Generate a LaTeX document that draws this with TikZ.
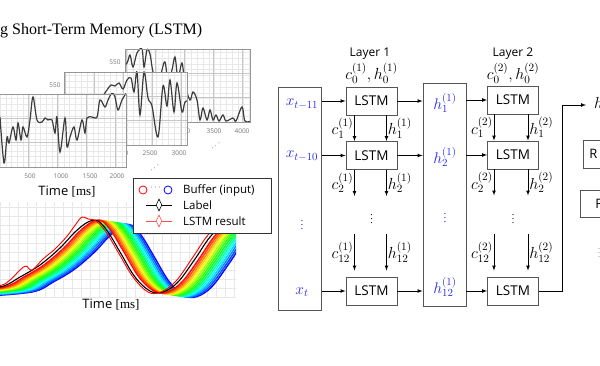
\RequirePackage{fix-cm}
\documentclass[tikz,border=0pt]{standalone}
\usepackage{fontspec}
\setmainfont{Liberation Serif}
\setsansfont{Open Sans}
\usetikzlibrary{shapes,arrows,positioning,calc}
\definecolor{frame}{RGB}{85, 85, 85}
\definecolor{inblue}{RGB}{40, 40, 235}
\definecolor{plotgray}{RGB}{150, 150, 150}
\definecolor{curvegray}{RGB}{60, 60, 60}
\definecolor{lstmred}{RGB}{255, 80, 80}
\tikzstyle{lstm} = [draw=frame, line width=0.9pt, minimum width=51pt, minimum height=28pt, inner sep=0pt, font=\sffamily\fontsize{13.5}{13.5}\selectfont]
\tikzstyle{column} = [draw=frame, line width=0.9pt, minimum width=43pt, inner sep=0pt]
\tikzstyle{sidebox} = [draw=frame, line width=0.9pt, inner sep=0pt, font=\sffamily\fontsize{13}{13}\selectfont]
\tikzstyle{lbl} = [inner sep=1pt, font=\fontsize{16}{16}\selectfont]
\tikzstyle{inlbl} = [inner sep=1pt, text=inblue, font=\fontsize{15.5}{15.5}\selectfont]
\tikzstyle{tick} = [inner sep=0pt, text=black!55, font=\sffamily\fontsize{6.5}{6.5}\selectfont]
\tikzstyle{textonly} = [inner sep=0pt, font=\sffamily\fontsize{12}{12}\selectfont]
\tikzstyle{gridminor} = [draw=black!9, line width=0.3pt]
\tikzstyle{gridmajor} = [draw=black!22, line width=0.4pt]
\tikzstyle{wave} = [draw=curvegray, line width=1.2pt, smooth, tension=0.55]
\tikzstyle{tedge} = [draw, line width=0.7pt, >=latex, ->]
\newcommand{\plotwin}[4]{%
  \fill[white] (#1,#2) rectangle (#3,#4);
  \draw[gridminor, step=5.8pt] (#1,#2) grid (#3,#4);
  \foreach \gx in {0,...,4} \draw[gridmajor] ({#1+1+29*\gx},#2) -- ({#1+1+29*\gx},#4);
  \foreach \gy in {1,2} \draw[gridmajor] (#1,{#2+24*\gy}) -- (#3,{#2+24*\gy});
}
\newcommand{\labelwave}{plot[smooth, tension=0.6] coordinates {(-40,291) (0,287) (20,277) (40,265) (60,248) (75,232) (88,222) (98,221) (108,232) (120,252) (135,277) (150,291) (163,292) (178,282) (195,259) (210,237) (225,223) (245,214)}}
\begin{document}
\begin{tikzpicture}[x=1pt, y=-1pt]
\useasboundingbox (0,0) rectangle (600,366);

% title
\node[anchor=base west, inner sep=0pt, font=\rmfamily\fontsize{16}{16}\selectfont] (title) at (0,35) {g Short-Term Memory (LSTM)};

% stacked signal windows ==================

% window 3
\node[tick] (t550c) at (115,62) {550};
\node[tick] (t3000c) at (183,131) {3000};
\node[tick] (t3500c) at (214,131) {3500};
\node[tick] (t4000c) at (242,131) {4000};
\begin{scope}
\clip (125,49) rectangle (250,122);
\plotwin{125}{49}{250}{122}
\draw[wave] plot coordinates {(120,70) (127,63) (130,55) (133,67) (137,53) (142,49) (144,67) (147,50) (150,54) (153,72) (158,88) (162,70) (165,62) (168,80) (172,70) (175,57) (178,78) (182,63) (185,85) (190,100) (193,92) (197,100) (200,120) (203,108) (207,120) (210,110) (213,120) (216,115) (219,121) (223,115) (226,121) (233,118) (236,121) (242,107) (245,121) (252,121)};
\end{scope}
\draw[plotgray, line width=0.9pt] (125,49) rectangle (250,122);
\node[rotate=35, font=\fontsize{7}{7}\selectfont] (dots3) at (216,146) {$\cdots$};

% window 2
\node[tick] (t550b) at (55,85) {550};
\node[tick] (t2000b) at (121,153) {2000};
\node[tick] (t2500b) at (150,153) {2500};
\node[tick] (t3000b) at (179,153) {3000};
\begin{scope}
\clip (64,72) rectangle (187,145);
\plotwin{64}{72}{187}{145}
\draw[wave] plot coordinates {(95,110) (103,96) (107,90) (111,85) (115,86) (119,83) (123,89) (127,80) (131,78) (134,92) (137,72) (140,115) (144,72) (148,98) (152,106) (158,137) (163,86) (167,106) (170,80) (174,112) (177,83) (182,112) (185,102) (190,100)};
\end{scope}
\draw[plotgray, line width=0.9pt] (64,72) rectangle (187,145);
\node[rotate=35, font=\fontsize{7}{7}\selectfont] (dots2) at (155,168) {$\cdots$};

% window 1
\node[tick] (t500a) at (30,176) {500};
\node[tick] (t1000a) at (61,176) {1000};
\node[tick] (t1500a) at (90,176) {1500};
\node[tick] (t2000a) at (117,176) {2000};
\begin{scope}
\clip (-2,94) rectangle (126,167);
\plotwin{-2}{94}{126}{167}
\draw[wave] plot coordinates {(0,117) (4,163) (7,137) (9,143) (13,127) (16,140) (18,123) (21,140) (23,127) (27,137) (30,120) (33,97) (37,120) (42,122) (45,118) (48,120) (52,120) (55,133) (57,117) (60,152) (65,118) (67,147) (70,137) (74,127) (77,140) (82,120) (85,133) (87,118) (92,117) (97,117) (100,100) (105,107) (108,100) (112,93) (115,97) (118,110) (122,100) (127,92)};
\end{scope}
\draw[plotgray, line width=0.9pt] (-2,94) rectangle (126,167);
\node[textonly, font=\sffamily\fontsize{13}{13}\selectfont] (time1) at (67,192) {Time \rmfamily[ms]};

% buffer / label / result plot ==================
\begin{scope}
\clip (0,203) rectangle (236,298);
\draw[gridminor, step=9pt] (0,198) grid (236,298);
\foreach \k in {15,14,...,0} {
  \pgfmathsetmacro{\hue}{240*\k/15}
  \definecolor{rb}{Hsb}{\hue,0.95,1}
  \draw[rb, line width=1.5pt, xshift={(4+2*\k)*1pt}, yshift={-0.3*\k*1pt}] \labelwave;
}
\draw[black, line width=1.1pt] \labelwave;
\draw[red, line width=0.9pt, xshift=-2pt] plot[smooth, tension=0.6] coordinates {(-40,290) (0,286) (12,280) (22,270) (28,266) (34,270) (45,259) (56,250) (62,244) (70,235) (78,224) (84,217) (90,219) (98,221) (108,232) (120,252) (135,277) (150,292) (163,292) (178,281) (195,257) (210,235) (225,222) (245,213)};
\end{scope}
\node[textonly, font=\sffamily\fontsize{13}{13}\selectfont] (time2) at (111,305) {Time \rmfamily[ms]};

% legend
\node[draw=black!80, line width=0.8pt, fill=white, minimum width=138pt, minimum height=55pt, anchor=north west] (legend) at (133,178) {};
\node[circle, draw=red, line width=0.8pt, minimum size=8pt, inner sep=0pt] (bufred) at (143,190) {};
\node[circle, draw=blue, line width=0.8pt, minimum size=8pt, inner sep=0pt] (bufblue) at (168,190) {};
\node[inner sep=0pt, font=\fontsize{8}{8}\selectfont] (bufdots) at (155.5,188) {$\cdots$};
\coordinate (lab1) at (146,205);
\coordinate (lab2) at (172,205);
\draw[black, line width=0.8pt] (lab1) -- (lab2);
\node[diamond, draw=black, fill=white, line width=0.6pt, minimum width=6pt, minimum height=12pt, inner sep=0pt] (labdia) at (159,205) {};
\coordinate (res1) at (146,221);
\coordinate (res2) at (172,221);
\draw[lstmred, line width=0.8pt] (res1) -- (res2);
\node[diamond, draw=lstmred, fill=white, line width=0.6pt, minimum width=6pt, minimum height=12pt, inner sep=0pt] (resdia) at (159,221) {};
\node[textonly, anchor=west, font=\sffamily\fontsize{11.5}{11.5}\selectfont] (legbuf) at (183,190) {Buffer (input)};
\node[textonly, anchor=west, font=\sffamily\fontsize{11.5}{11.5}\selectfont] (leglab) at (183,205) {Label};
\node[textonly, anchor=west, font=\sffamily\fontsize{11.5}{11.5}\selectfont] (legres) at (183,221) {LSTM result};

% stacked LSTM ==================

% inputs
\node[column, minimum height=223pt] (xin) at (300,198.5) {};
\node[inlbl] (x11) at (302,104) {$x_{t-11}$};
\node[inlbl] (x10) at (302,156) {$x_{t-10}$};
\node[inlbl, font=\fontsize{11}{11}\selectfont] (xdots) at (302,222) {$\vdots$};
\node[inlbl] (xt) at (302,292) {$x_t$};

% layer 1
\node[textonly] (layer1) at (370,54) {Layer 1};
\node[lbl] (init1) at (371.5,73) {$c_0^{(1)}, h_0^{(1)}$};
\node[lstm] (l1a) at (371.5,101) {LSTM};
\node[lstm] (l1b) at (371.5,155.5) {LSTM};
\node[lstm] (l1c) at (371.5,291) {LSTM};
\node[lbl, font=\fontsize{10}{10}\selectfont] (l1dots) at (371.5,216) {$\vdots$};

% hidden states of layer 1
\node[column, minimum height=223pt] (hcol) at (444.5,194.5) {};
\node[inlbl] (h1) at (445,103) {$h_1^{(1)}$};
\node[inlbl] (h2) at (445,157) {$h_2^{(1)}$};
\node[inlbl, font=\fontsize{11}{11}\selectfont] (hdots) at (445,215) {$\vdots$};
\node[inlbl] (h12) at (445,287) {$h_{12}^{(1)}$};

% layer 2
\node[textonly] (layer2) at (513,54) {Layer 2};
\node[lbl] (init2) at (513,73) {$c_0^{(2)}, h_0^{(2)}$};
\node[lstm] (l2a) at (513,100) {LSTM};
\node[lstm] (l2b) at (513,155) {LSTM};
\node[lstm] (l2c) at (513,291) {LSTM};
\node[lbl, font=\fontsize{10}{10}\selectfont] (l2dots) at (513,216) {$\vdots$};

% output side (cut off)
\coordinate (turn) at (562,105);
\coordinate (hout) at (586,105);
\node[anchor=west, inner sep=0pt, font=\fontsize{16}{16}\selectfont] (hlast) at (594,103) {$h$};
\node[sidebox, anchor=west, minimum width=40pt, minimum height=28pt] (rbox) at (583,154) {};
\node[sidebox, draw=none, anchor=west] (rtext) at (589,154) {R};
\node[sidebox, anchor=west, minimum width=40pt, minimum height=27pt] (fbox) at (580,203.5) {};
\node[sidebox, draw=none, anchor=west] (ftext) at (595,203.5) {F};
\node[inner sep=0pt, text=black!60, font=\fontsize{8}{8}\selectfont] (rdots) at (599,250) {$\vdots$};

% free ends of the cell/hidden arrows
\coordinate (c2end) at ([xshift=-17pt, yshift=-26pt]l1b.south);
\coordinate (h2end) at ([xshift=15pt, yshift=-26pt]l1b.south);
\coordinate (c12start) at ([xshift=-17pt, yshift=43pt]l1c.north);
\coordinate (h12start) at ([xshift=15pt, yshift=43pt]l1c.north);
\coordinate (c2endb) at ([xshift=-19pt, yshift=-26pt]l2b.south);
\coordinate (h2endb) at ([xshift=15pt, yshift=-26pt]l2b.south);
\coordinate (c12startb) at ([xshift=-19pt, yshift=43pt]l2c.north);
\coordinate (h12startb) at ([xshift=15pt, yshift=43pt]l2c.north);

%edges input
\path[tedge] (xin.east |- l1a.west) -- (l1a.west);
\path[tedge] (xin.east |- l1b.west) -- (l1b.west);
\path[tedge] (xin.east |- l1c.west) -- (l1c.west);

%edges layer 1
\path[tedge] (l1a.east) -- (hcol.west |- l1a.east);
\path[tedge] (l1b.east) -- (hcol.west |- l1b.east);
\path[tedge] (l1c.east) -- (hcol.west |- l1c.east);
\path[tedge] ([xshift=-17pt]l1a.south) -- node[lbl, left] {$c_1^{(1)}$} ([xshift=-17pt]l1b.north);
\path[tedge] ([xshift=15pt]l1a.south) -- node[lbl, right] {$h_1^{(1)}$} ([xshift=15pt]l1b.north);
\path[tedge] ([xshift=-17pt]l1b.south) -- node[lbl, left] {$c_2^{(1)}$} (c2end);
\path[tedge] ([xshift=15pt]l1b.south) -- node[lbl, right] {$h_2^{(1)}$} (h2end);
\path[tedge] (c12start) -- node[lbl, left] {$c_{12}^{(1)}$} ([xshift=-17pt, yshift=6pt]l1c.north);
\path[tedge] (h12start) -- node[lbl, right] {$h_{12}^{(1)}$} ([xshift=15pt, yshift=6pt]l1c.north);

%edges layer 2
\path[tedge] (hcol.east |- l2a.west) -- (l2a.west);
\path[tedge] (hcol.east |- l2b.west) -- (l2b.west);
\path[tedge] (hcol.east |- l2c.west) -- (l2c.west);
\path[tedge] ([xshift=-19pt]l2a.south) -- node[lbl, left] {$c_1^{(2)}$} ([xshift=-19pt]l2b.north);
\path[tedge] ([xshift=15pt]l2a.south) -- node[lbl, right] {$h_1^{(2)}$} ([xshift=15pt]l2b.north);
\path[tedge] ([xshift=-19pt]l2b.south) -- node[lbl, left] {$c_2^{(2)}$} (c2endb);
\path[tedge] ([xshift=15pt]l2b.south) -- node[lbl, right] {$h_2^{(2)}$} (h2endb);
\path[tedge] (c12startb) -- node[lbl, left] {$c_{12}^{(2)}$} ([xshift=-19pt, yshift=6pt]l2c.north);
\path[tedge] (h12startb) -- node[lbl, right] {$h_{12}^{(2)}$} ([xshift=15pt, yshift=6pt]l2c.north);

%edge output
\path[tedge] (l2c.east) -| (turn) -- (hout);

\end{tikzpicture}
\end{document}
